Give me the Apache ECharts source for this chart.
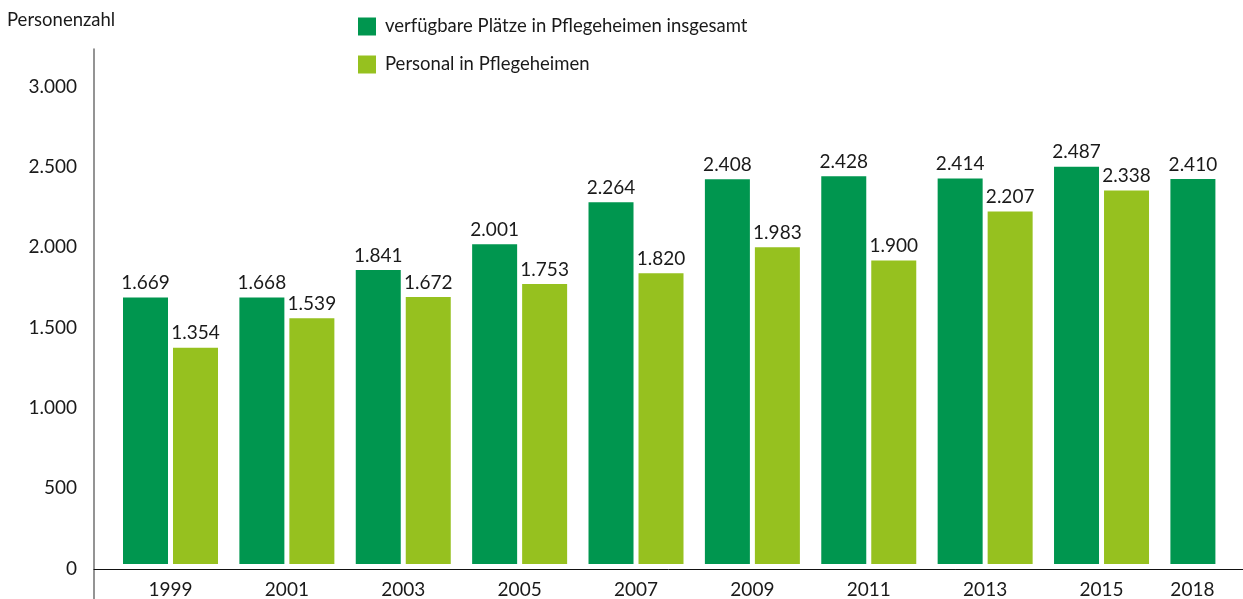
<!DOCTYPE html>
<html>
<head>
<meta charset="utf-8">
<script src="https://cdn.jsdelivr.net/npm/echarts@6/dist/echarts.min.js"></script>
<style>
  html, body { margin: 0; padding: 0; background: #fff; }
  #chart { width: 1243px; height: 599px; }
</style>
</head>
<body>
<div id="chart"></div>
<script>
var years = ['1999', '2001', '2003', '2005', '2007', '2009', '2011', '2013', '2015', '2018'];
var plaetze = [1669, 1668, 1841, 2001, 2264, 2408, 2428, 2414, 2487, 2410];
var personal = [1354, 1539, 1672, 1753, 1820, 1983, 1900, 2207, 2338, null];
var yTicks = [0, 500, 1000, 1500, 2000, 2500, 3000];

var FONT = 'Lato';
var TXT = '#1a1a1a';
var DARK = '#00964f';
var LIGHT = '#96c11f';
var FS = 19;

function fmt(v) {
    return String(v).replace(/\B(?=(\d{3})+(?!\d))/g, '.');
}

var cats = years.map(function (y, i) {
    // last year label sits under its single bar
    if (i == years.length - 1) {
        return { value: y, textStyle: { padding: [0, 51, 0, 0] } };
    }
    return y;
});

var chart = echarts.init(document.getElementById('chart'));
var option = {
    animation: false,
    textStyle: { fontFamily: FONT },
    title: {
        text: 'Personenzahl',
        left: 7,
        top: 11,
        padding: 0,
        textStyle: { fontFamily: FONT, fontSize: 18.5, fontWeight: 'normal', color: TXT }
    },
    legend: {
        orient: 'vertical',
        left: 358,
        top: 17,
        itemWidth: 18,
        itemHeight: 18,
        itemGap: 19,
        icon: 'rect',
        padding: 0,
        textStyle: { fontFamily: FONT, fontSize: 18.5, color: TXT, padding: [0, 0, 0, 4] },
        data: ['verfügbare Plätze in Pflegeheimen insgesamt', 'Personal in Pflegeheimen']
    },
    grid: [
        // ticks at the group centres: 1999 at the left edge, 2018 at the right
        { left: 170.5, right: 25.1, top: 84.8, bottom: 33 },
        // axis lines
        { left: 94, right: 0, top: 49, bottom: 0 },
        // y tick labels (sit a little lower than the bar scale in the original)
        { left: 94, right: 0, top: 86.5, bottom: 30.5 }
    ],
    xAxis: [
        {
            type: 'category',
            gridIndex: 0,
            data: cats,
            boundaryGap: false,
            axisLine: { show: false },
            axisTick: { show: false },
            axisLabel: { fontFamily: FONT, fontSize: FS, color: TXT, margin: 16 }
        },
        {
            type: 'value',
            gridIndex: 1,
            min: 0,
            max: 1,
            axisLine: { show: true, lineStyle: { color: '#111', width: 1 } },
            axisTick: { show: false },
            axisLabel: { show: false },
            splitLine: { show: false }
        },
        {
            type: 'value',
            gridIndex: 2,
            min: 0,
            max: 1,
            show: false
        }
    ],
    yAxis: [
        {
            type: 'value',
            gridIndex: 0,
            min: yTicks[0],
            max: yTicks[yTicks.length - 1],
            interval: 500,
            show: false
        },
        {
            // pixel units so the x axis line lands where it should
            type: 'value',
            gridIndex: 1,
            min: -30,
            max: 520,
            axisLine: { show: true, onZero: false, lineStyle: { color: '#707070', width: 1.5 } },
            axisTick: { show: false },
            axisLabel: { show: false },
            splitLine: { show: false }
        },
        {
            type: 'value',
            gridIndex: 2,
            min: yTicks[0],
            max: yTicks[yTicks.length - 1],
            interval: 500,
            axisLine: { show: false },
            axisTick: { show: false },
            splitLine: { show: false },
            axisLabel: {
                fontFamily: FONT, fontSize: FS, color: TXT, margin: 17,
                formatter: function (v) { return fmt(v); }
            }
        }
    ],
    series: [
        {
            name: 'verfügbare Plätze in Pflegeheimen insgesamt',
            type: 'bar',
            xAxisIndex: 0,
            yAxisIndex: 0,
            data: plaetze,
            barWidth: 45,
            barGap: '11.1%',
            clip: false,
            itemStyle: { color: DARK },
            label: {
                show: true, position: 'top', distance: 5,
                fontFamily: FONT, fontSize: FS, color: TXT,
                formatter: function (p) { return fmt(p.value); }
            }
        },
        {
            name: 'Personal in Pflegeheimen',
            type: 'bar',
            xAxisIndex: 0,
            yAxisIndex: 0,
            data: personal,
            barWidth: 45,
            clip: false,
            itemStyle: { color: LIGHT },
            label: {
                show: true, position: 'top', distance: 5,
                fontFamily: FONT, fontSize: FS, color: TXT,
                formatter: function (p) { return fmt(p.value); }
            }
        }
    ]
};
chart.setOption(option);
</script>
</body>
</html>
